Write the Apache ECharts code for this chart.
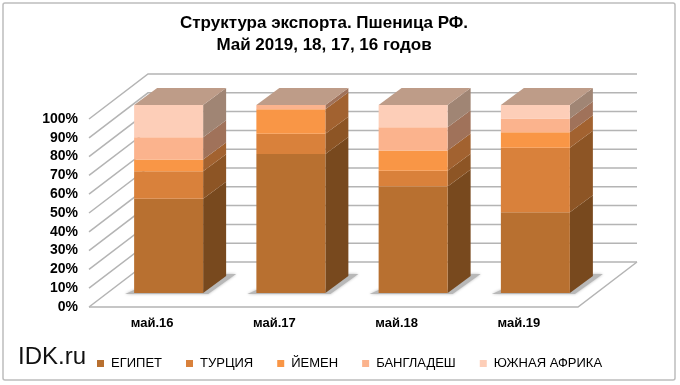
<!DOCTYPE html>
<html><head><meta charset="utf-8">
<style>html,body{margin:0;padding:0;background:#fff}#c{width:680px;height:385px}</style>
<script src="https://cdn.jsdelivr.net/npm/echarts@6/dist/echarts.min.js"></script></head>
<body><div id="c"></div>
<script>
const categories = ['май.16','май.17','май.18','май.19'];
const egypt = [50.1, 73.9, 56.7, 43.0];
const turkey = [14.7, 10.8, 8.3, 34.3];
const yemen = [6.2, 13.1, 10.8, 8.2];
const bangladesh = [11.9, 2.2, 12.4, 7.3];
const southAfrica = [17.1, 0, 11.8, 7.2];
const yTicks = [0,10,20,30,40,50,60,70,80,90,100];

const DEPTH = {x:59, y:-45};      // depth of floor / walls
const OFF = {x:18.5, y:-14};      // bars stand inside the floor
const BOX = {x:23, y:-17};        // depth of a bar
const BAR_W = 69;

const defs = [
 ['ЕГИПЕТ', egypt, '#B87030', '#78491E'],
 ['ТУРЦИЯ', turkey, '#D9813B', '#8D5525'],
 ['ЙЕМЕН', yemen, '#F99646', '#A26230'],
 ['БАНГЛАДЕШ', bangladesh, '#FBB38D', '#A0725A'],
 ['ЮЖНАЯ АФРИКА', southAfrica, '#FDCEB8', '#A08574']
];
function stackRows(idx){
  return categories.map((c,i)=>{
    let s=0; for(let k=0;k<idx;k++) s+=defs[k][1][i];
    return [i, s, s+defs[idx][1][i]];
  });
}
const poly=(points,fill,extra)=>({type:'polygon',shape:{points},style:Object.assign({fill},extra||{})});

const barSeries = defs.map((d,idx)=>({
  type:'custom', name:d[0], itemStyle:{color:d[2]}, z:5+idx,
  data:stackRows(idx), encode:{x:0,y:[1,2]}, clip:false,
  renderItem(p,api){
    const a=api.coord([api.value(0),api.value(1)]), b=api.coord([api.value(0),api.value(2)]);
    const x0=a[0]-BAR_W/2+OFF.x, x1=x0+BAR_W, y0=a[1]+OFF.y, y1=b[1]+OFF.y;
    const ch=[
      poly([[x1,y0],[x1+BOX.x,y0+BOX.y],[x1+BOX.x,y1+BOX.y],[x1,y1]],d[3]),
      poly([[x0,y0],[x1,y0],[x1,y1],[x0,y1]],d[2])
    ];
    if(idx===defs.length-1) ch.push(poly([[x0,y1],[x1,y1],[x1+BOX.x,y1+BOX.y],[x0+BOX.x,y1+BOX.y]],'#BE9C88'));
    return {type:'group',children:ch};
  }
}));
const shadow={type:'custom',name:'shadow',z:3,silent:true,clip:false,data:categories.map((c,i)=>[i,0]),encode:{x:0,y:1},
  renderItem(p,api){
    const a=api.coord([api.value(0),0]);
    const x0=a[0]-BAR_W/2+OFF.x,x1=x0+BAR_W,y=a[1]+OFF.y;
    return poly([[x0-9,y+1],[x1+5,y+1],[x1+33,y-19],[x1+22,y-19],[x1,y-3],[x0,y-3]],'#B8B8B8',{shadowBlur:3,shadowColor:'#B8B8B8'});
  }};
const walls={type:'custom',name:'walls',z:1,silent:true,clip:false,data:yTicks.map(v=>[0,v]),encode:{y:1},
  renderItem(p,api){
    const g=p.coordSys, y=api.coord([0,api.value(1)])[1], x=g.x;
    const st={stroke:'#B4B4B4',lineWidth:1.5,fill:'none'};
    const ch=[{type:'polyline',shape:{points:[[x,y],[x+DEPTH.x,y+DEPTH.y],[x+g.width+DEPTH.x,y+DEPTH.y]]},style:st}];
    if(api.value(1)===0) ch.push({type:'polyline',shape:{points:[[x,y],[x+g.width,y],[x+g.width+DEPTH.x,y+DEPTH.y]]},style:st});
    return {type:'group',children:ch};
  }};

const chart=echarts.init(document.getElementById('c'),null,{renderer:'canvas'});
chart.setOption({
  animation:false, backgroundColor:'#fff',
  textStyle:{fontFamily:'Liberation Sans'},
  title:{text:'Структура экспорта. Пшеница РФ.\nМай 2019, 18, 17, 16 годов',left:319,top:7,textAlign:'center',
    textStyle:{fontFamily:'Liberation Sans',fontSize:17,fontWeight:'bold',lineHeight:22,color:'#000'}},
  grid:{left:89,top:119,width:489,height:188},
  xAxis:{type:'category',data:categories,axisLine:{show:false},axisTick:{show:false},
    axisLabel:{margin:10,color:'#000',fontWeight:'bold',fontSize:13,fontFamily:'Liberation Sans',padding:[0,0,0,4]}},
  yAxis:{type:'value',min:0,max:100,interval:10,splitLine:{show:false},axisLine:{show:false},axisTick:{show:false},
    axisLabel:{formatter:'{value}%',margin:11,color:'#000',fontWeight:'bold',fontSize:14,fontFamily:'Liberation Sans'}},
  legend:{data:defs.map(d=>d[0]),left:92,top:352,itemWidth:7,itemHeight:7,itemGap:24,icon:'rect',
    textStyle:{color:'#000',fontSize:13,fontFamily:'Liberation Sans',padding:[0,0,0,2]}},
  graphic:[
    {type:'rect',z:-1,silent:true,shape:{x:3,y:3,width:672,height:377,r:2},style:{fill:'none',stroke:'#BDBDBD',lineWidth:1.5}},
    {type:'text',left:18,top:345,silent:true,style:{text:'IDK.ru',fontFamily:'Liberation Sans',fontSize:24,fill:'#111'}}
  ],
  series:[walls,shadow,...barSeries]
});
</script></body></html>
